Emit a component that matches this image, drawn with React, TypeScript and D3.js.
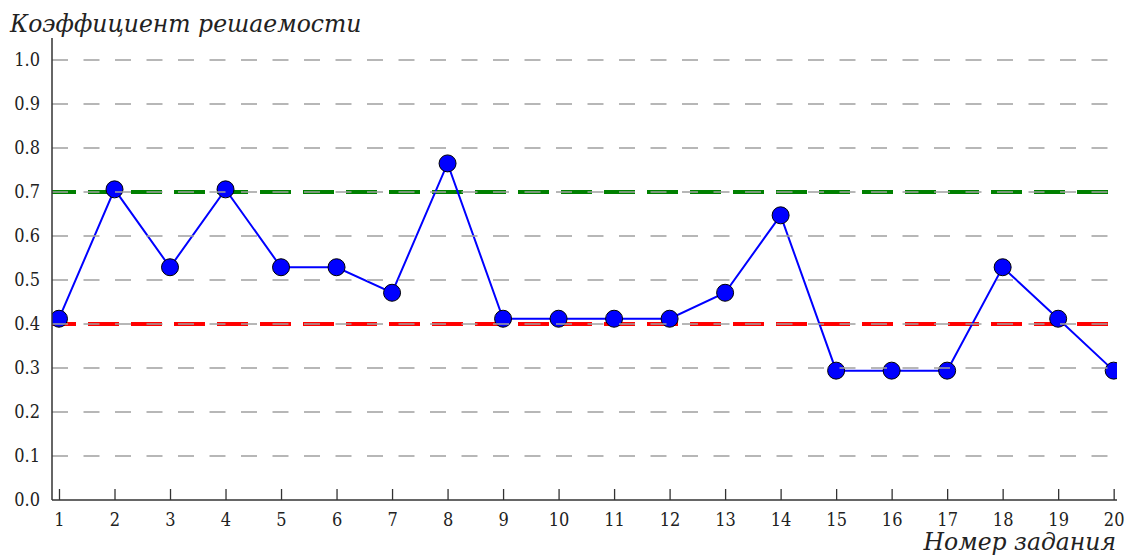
import { useRef, useEffect } from "react";
import * as d3 from "d3";

const tasks = d3.range(1, 21);
const solveRate = [
  0.412, 0.706, 0.529, 0.706, 0.529, 0.529, 0.471, 0.765, 0.412, 0.412,
  0.412, 0.412, 0.471, 0.647, 0.294, 0.294, 0.294, 0.529, 0.412, 0.294,
];
const yTicks = [0, 0.1, 0.2, 0.3, 0.4, 0.5, 0.6, 0.7, 0.8, 0.9, 1.0];
const upperLevel = 0.7;
const lowerLevel = 0.4;
const yTitle = "Коэффициент решаемости";
const xTitle = "Номер задания";

const W = 1125;
const H = 560;
const M = { top: 38, right: 8, bottom: 60, left: 52 };
const IW = W - M.left - M.right;
const IH = H - M.top - M.bottom;
const FONT = "'DejaVu Serif Condensed', 'DejaVu Serif', serif";
const TITLE_FONT = "'DejaVu Serif', serif";

export default function App() {
  const svgRef = useRef<SVGSVGElement>(null);

  useEffect(() => {
    if (!svgRef.current) return;
    const svg = d3.select(svgRef.current);
    svg.selectAll("*").remove();

    const x = d3.scaleLinear().domain([0.874, 20.06]).range([0, IW]);
    const y = d3.scaleLinear().domain([0, 1.05]).range([IH, 0]);

    svg.append("defs").append("clipPath").attr("id", "plot-clip")
      .append("rect").attr("width", IW).attr("height", IH);

    const g = svg.append("g").attr("transform", `translate(${M.left},${M.top})`);
    const plot = g.append("g").attr("clip-path", "url(#plot-clip)");

    // threshold lines
    [{ v: upperLevel, c: "#008000" }, { v: lowerLevel, c: "#ff0000" }].forEach(t => {
      plot.append("line")
        .attr("x1", 0).attr("x2", IW)
        .attr("y1", y(t.v)).attr("y2", y(t.v))
        .attr("stroke", t.c)
        .attr("stroke-width", 4)
        .attr("stroke-dasharray", "31,12")
        .attr("stroke-dashoffset", 7);
    });

    // data line
    const line = d3.line<number>()
      .x((_, i) => x(tasks[i]))
      .y(d => y(d));
    plot.append("path")
      .datum(solveRate)
      .attr("d", line)
      .attr("fill", "none")
      .attr("stroke", "#0000ff")
      .attr("stroke-width", 2);

    plot.selectAll(".dot")
      .data(solveRate)
      .join("circle")
      .attr("class", "dot")
      .attr("cx", (_, i) => x(tasks[i]))
      .attr("cy", d => y(d))
      .attr("r", 8.5)
      .attr("fill", "#0000ff")
      .attr("stroke", "#000")
      .attr("stroke-width", 1);

    // grid on top (gray dashes)
    plot.selectAll(".grid")
      .data(yTicks.slice(1))
      .join("line")
      .attr("class", "grid")
      .attr("x1", 0).attr("x2", IW)
      .attr("y1", d => y(d)).attr("y2", d => y(d))
      .attr("stroke", "#a0a0a0")
      .attr("stroke-width", 1.3)
      .attr("stroke-dasharray", "16,15.5");

    // x axis
    const xAxis = g.append("g")
      .attr("transform", `translate(0,${IH})`)
      .call(d3.axisBottom(x).tickValues(tasks).tickSizeInner(-11).tickSizeOuter(0).tickPadding(13).tickFormat(d3.format("d")));
    xAxis.select(".domain").attr("stroke", "#333").attr("stroke-width", 1.5).attr("d", `M0,0H${IW}`);
    xAxis.selectAll(".tick line").attr("stroke", "#333").attr("stroke-width", 1.3);
    xAxis.selectAll("text")
      .attr("font-family", FONT).attr("font-size", 18).attr("fill", "#222");

    // y axis
    const yAxis = g.append("g")
      .call(d3.axisLeft(y).tickValues(yTicks).tickSize(0).tickPadding(12).tickFormat(d3.format(".1f")));
    yAxis.select(".domain").attr("stroke", "#333").attr("stroke-width", 1.5).attr("d", `M0,0V${IH}`);
    yAxis.selectAll("text")
      .attr("font-family", FONT).attr("font-size", 18).attr("fill", "#222");

    // titles
    svg.append("text")
      .attr("x", 10).attr("y", 32)
      .attr("font-family", TITLE_FONT).attr("font-style", "italic")
      .attr("font-size", 23.5).attr("fill", "#222")
      .text(yTitle);

    svg.append("text")
      .attr("x", 1116).attr("y", 550)
      .attr("text-anchor", "end")
      .attr("font-family", TITLE_FONT).attr("font-style", "italic")
      .attr("font-size", 23.5).attr("fill", "#222")
      .text(xTitle);
  }, []);

  return (
    <svg
      ref={svgRef}
      width={W}
      height={H}
      style={{ position: "absolute", left: 0, top: 0, background: "#fff" }}
    />
  );
}
